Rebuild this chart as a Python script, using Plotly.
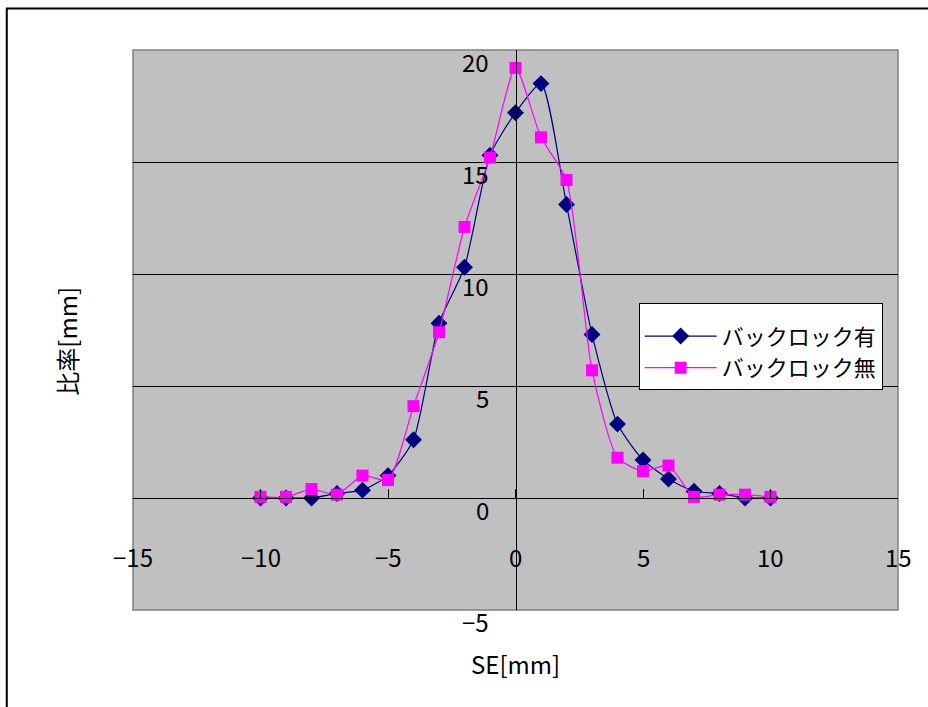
import plotly.graph_objects as go

se = [-10, -9, -8, -7, -6, -5, -4, -3, -2, -1, 0, 1, 2, 3, 4, 5, 6, 7, 8, 9, 10]
with_backlock = [0.0, 0.0, 0.0, 0.2, 0.35, 1.0, 2.6, 7.8, 10.3, 15.3, 17.2, 18.5, 13.1, 7.3, 3.3, 1.7, 0.85, 0.3, 0.2, 0.0, 0.0]
without_backlock = [0.05, 0.05, 0.4, 0.15, 1.0, 0.8, 4.1, 7.4, 12.1, 15.2, 19.2, 16.1, 14.2, 5.7, 1.8, 1.2, 1.45, 0.05, 0.15, 0.15, 0.05]

x_ticks = [-15, -10, -5, 0, 5, 10, 15]
y_ticks = [-5, 0, 5, 10, 15, 20]
series_names = ["バックロック有", "バックロック無"]
x_title = "SE[mm]"
y_title = "比率[mm]"

FONT = "Noto Sans CJK JP, sans-serif"

fig = go.Figure()
fig.add_trace(go.Scatter(
    x=se, y=with_backlock, name=series_names[0], mode="lines+markers",
    line=dict(color="#000080", width=1.2, shape="spline", smoothing=0.6),
    marker=dict(symbol="diamond", size=13, color="#000080"),
))
fig.add_trace(go.Scatter(
    x=se, y=without_backlock, name=series_names[1], mode="lines+markers",
    line=dict(color="#FF00FF", width=1.2, shape="spline", smoothing=0.6),
    marker=dict(symbol="square", size=12, color="#FF00FF"),
))

annotations = []
for t in x_ticks:
    annotations.append(dict(x=t, y=-2.6, xref="x", yref="y", text=("−" + str(-t)) if t < 0 else str(t),
                            showarrow=False, font=dict(size=24, color="black", family=FONT),
                            xanchor="center", yanchor="middle"))
for t in y_ticks:
    annotations.append(dict(x=-0.95, y=t, xref="x", yref="y", text=("−" + str(-t)) if t < 0 else str(t),
                            showarrow=False, font=dict(size=24, color="black", family=FONT),
                            xanchor="right", yanchor="middle", yshift=-11))
annotations.append(dict(x=0.5, y=-0.095, xref="paper", yref="paper", text=x_title, showarrow=False,
                        font=dict(size=24, color="black", family=FONT), xanchor="center", yanchor="middle"))
annotations.append(dict(x=-0.087, y=0.48, xref="paper", yref="paper", text=y_title, showarrow=False,
                        textangle=-90, font=dict(size=24, color="black", family=FONT),
                        xanchor="center", yanchor="middle"))

fig.update_layout(
    width=928, height=707,
    margin=dict(l=133, r=30, t=50, b=97),
    paper_bgcolor="white",
    plot_bgcolor="#C0C0C0",
    showlegend=True,
    legend=dict(x=0.661, y=0.549, xanchor="left", yanchor="top",
                bgcolor="white", bordercolor="black", borderwidth=1,
                font=dict(size=22, color="black", family=FONT),
                title=dict(text=" ", font=dict(size=9)),
                itemwidth=72),
    xaxis=dict(range=[-15, 15], showgrid=False, zeroline=False,
               showticklabels=False, ticks="inside", ticklen=9, tickcolor="black",
               tickvals=x_ticks, anchor="free", position=0.2, showline=True, linecolor="black", linewidth=1),
    yaxis=dict(range=[-5, 20], showgrid=True, gridcolor="black", gridwidth=1, zeroline=False,
               showticklabels=False, ticks="inside", ticklen=9, tickcolor="black",
               tickvals=y_ticks, anchor="free", position=0.5, showline=True, linecolor="black", linewidth=1),
    annotations=annotations,
    shapes=[
        dict(type="rect", xref="paper", yref="paper", x0=0, x1=1, y0=0, y1=1,
             line=dict(color="#808080", width=1.5), layer="below"),
        dict(type="rect", xref="paper", yref="paper", x0=-0.165, x1=1.06, y0=-0.2, y1=1.074,
             line=dict(color="black", width=2), layer="below"),
    ],
)

fig.write_html("out.html")
